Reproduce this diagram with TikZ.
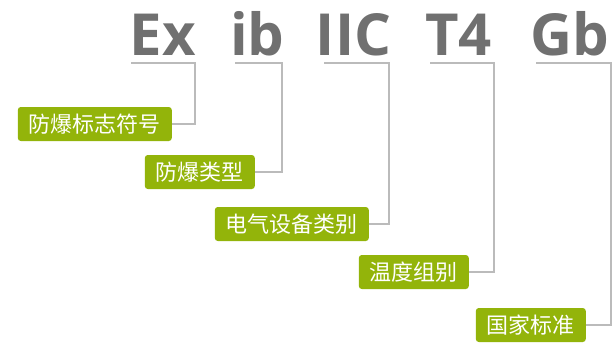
\documentclass[tikz,border=0pt]{standalone}
\usepackage{fontspec}
\setmainfont{Open Sans}
\newfontfamily\cjk{Noto Sans CJK SC}
\usepackage{tikz}
\usetikzlibrary{positioning,calc}

\definecolor{codegray}{HTML}{707070}
\definecolor{linegray}{HTML}{BBBBBB}
\definecolor{tagGreen}{HTML}{93B40A}

\tikzset{
    code/.style={inner sep=0pt, anchor=base, text=codegray,
        font=\fontsize{58}{58}\selectfont\bfseries},
    tag/.style={anchor=east, fill=tagGreen, text=white, rounded corners=3pt,
        minimum height=34pt, inner xsep=11pt, inner ysep=0pt,
        font=\cjk\fontsize{22}{22}\selectfont},
    conn/.style={draw=linegray, line width=2pt}
}

\begin{document}
\begin{tikzpicture}[x=1pt,y=-1pt]
    \useasboundingbox (0,0) rectangle (616,346);

    % Code letters
    \node[code] (ex)  at (163,55)   {Ex};
    \node[code] (ib)  at (257.5,55) {ib};
    \node[code] (iic) at (353.5,55) {IIC};
    \node[code] (t4)  at (458.5,55) {T4};
    \node[code] (gb)  at (569.5,55) {Gb};

    % Labels
    \node[tag] (biaozhi)  at (172,124) {防爆标志符号};
    \node[tag] (leixing)  at (255,172) {防爆类型};
    \node[tag] (leibie)   at (369,224) {电气设备类别};
    \node[tag] (zubie)    at (469,272) {温度组别};
    \node[tag] (biaozhun) at (586,325) {国家标准};

    % Underline ends
    \coordinate (ex-a)  at (131,63);  \coordinate (ex-b)  at (195,63);
    \coordinate (ib-a)  at (235,63);  \coordinate (ib-b)  at (282,63);
    \coordinate (iic-a) at (324,63);  \coordinate (iic-b) at (389,63);
    \coordinate (t4-a)  at (430,63);  \coordinate (t4-b)  at (494,63);
    \coordinate (gb-a)  at (536,63);  \coordinate (gb-b)  at (611,63);

    % Connectors
    \draw[conn] (ex-a) -- (ex-b) |- (biaozhi.east);
    \draw[conn] (ib-a) -- (ib-b) |- (leixing.east);
    \draw[conn] (iic-a) -- (iic-b) |- (leibie.east);
    \draw[conn] (t4-a) -- (t4-b) |- (zubie.east);
    \draw[conn] (gb-a) -- (gb-b) |- (biaozhun.east);
\end{tikzpicture}
\end{document}
